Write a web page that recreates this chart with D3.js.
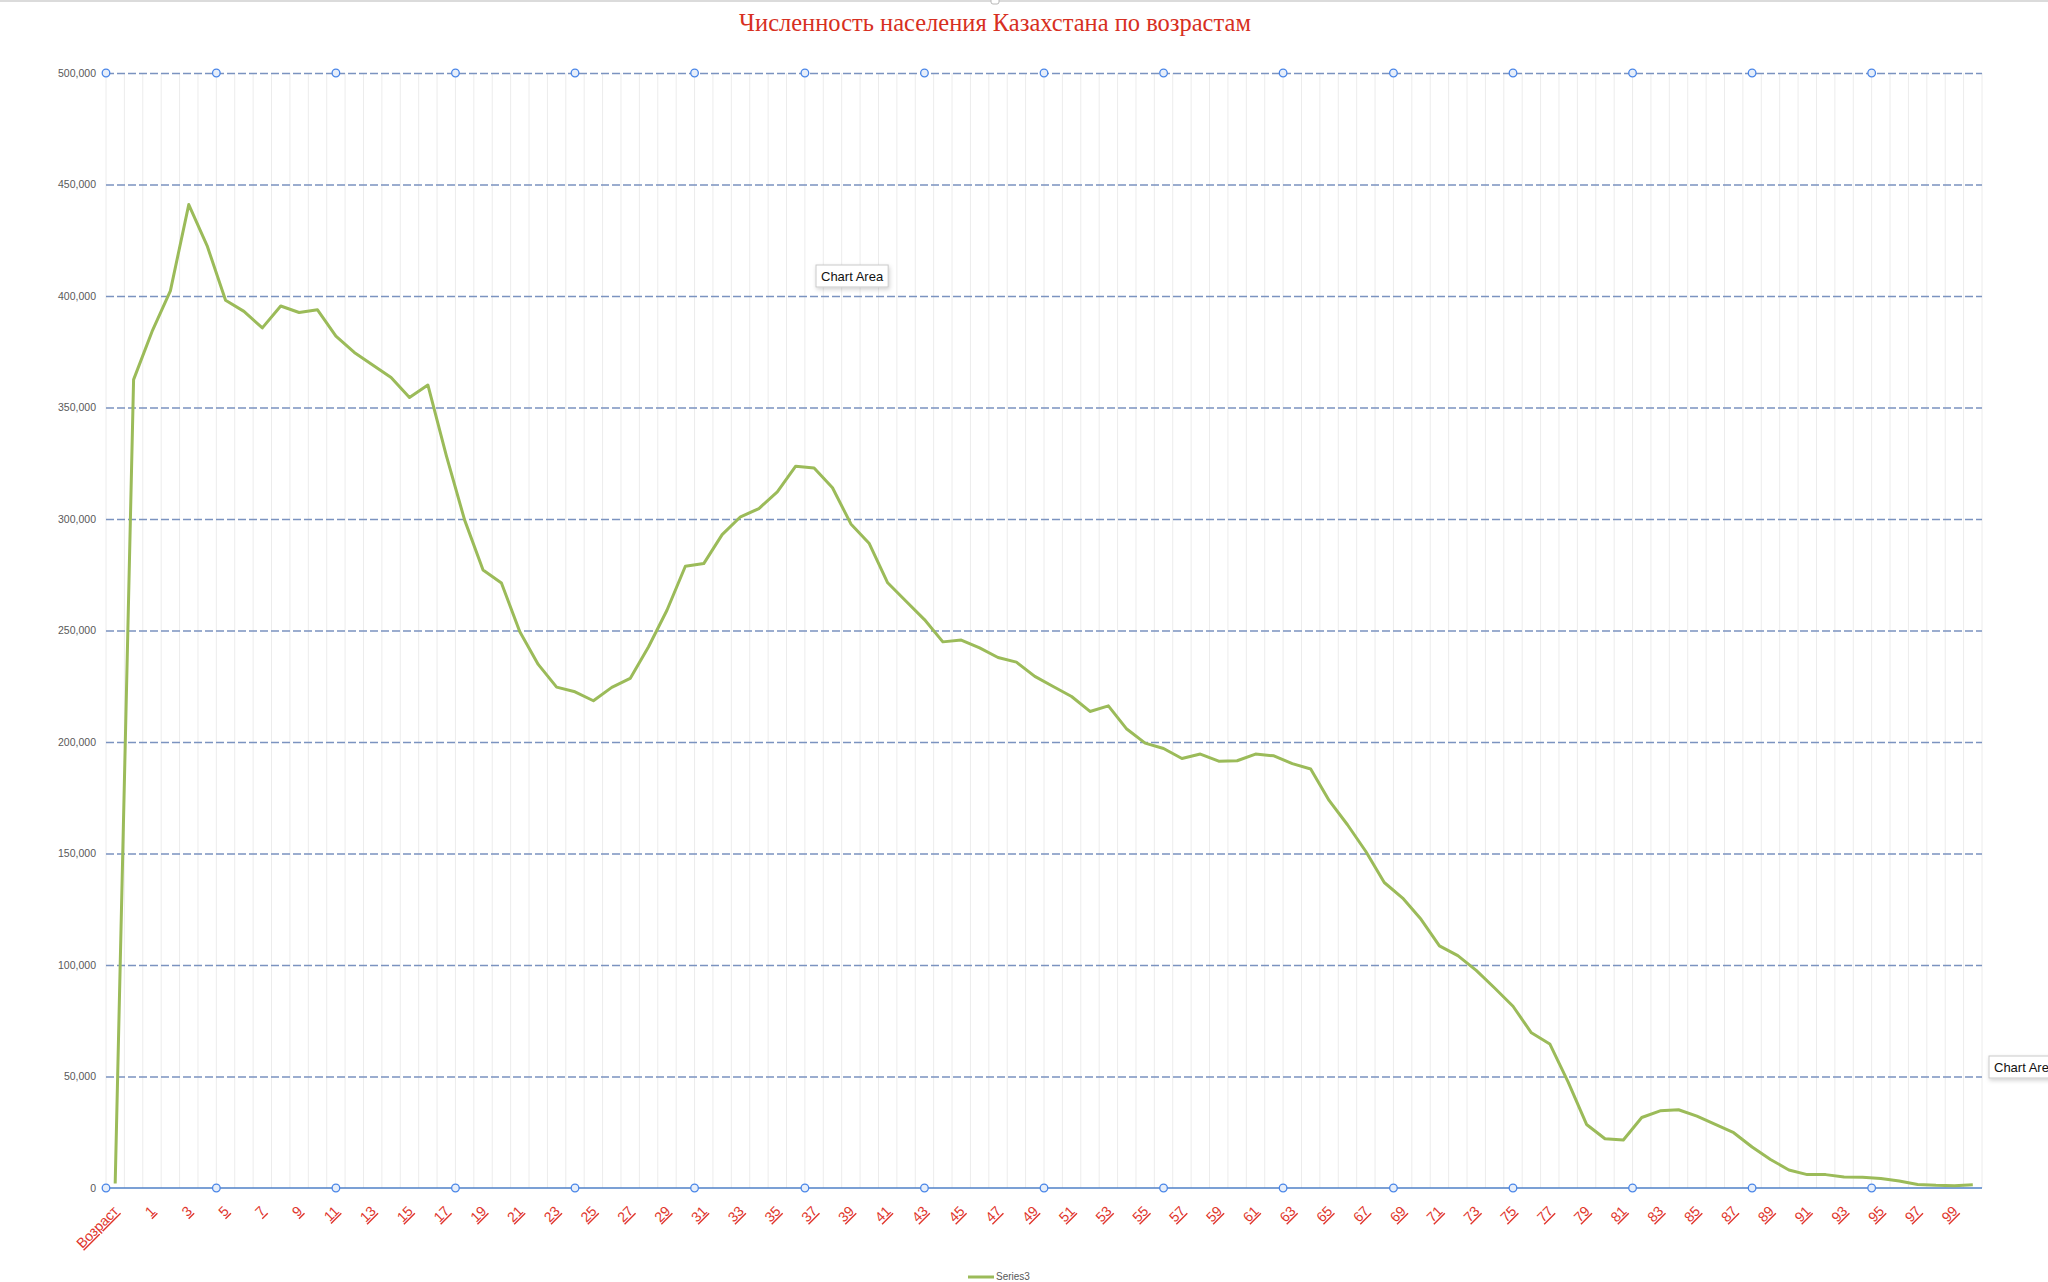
<!DOCTYPE html>
<html>
<head>
<meta charset="utf-8">
<script src="https://cdn.jsdelivr.net/npm/d3@7/dist/d3.min.js"></script>
<style>
  html, body { margin: 0; padding: 0; background: #ffffff; }
  svg { display: block; }
</style>
</head>
<body>
<svg id="chart" width="2048" height="1282"></svg>
<script>
// ---------------- DATA ----------------
const chartTitle = "Численность населения Казахстана по возрастам";
const seriesName = "Series3";
const categories = ["Возраст",
  "0","1","2","3","4","5","6","7","8","9",
  "10","11","12","13","14","15","16","17","18","19",
  "20","21","22","23","24","25","26","27","28","29",
  "30","31","32","33","34","35","36","37","38","39",
  "40","41","42","43","44","45","46","47","48","49",
  "50","51","52","53","54","55","56","57","58","59",
  "60","61","62","63","64","65","66","67","68","69",
  "70","71","72","73","74","75","76","77","78","79",
  "80","81","82","83","84","85","86","87","88","89",
  "90","91","92","93","94","95","96","97","98","99","100"];
const values = [2000,
  362500,384000,402300,441000,422500,398100,393100,385700,395500,392600,
  393800,382000,374700,369100,363500,354500,360100,328500,299500,277100,
  271300,249400,234800,224600,222500,218500,224500,228500,242700,259100,
  278800,280000,293000,301000,304700,312200,323700,322900,314000,297800,
  289000,271400,263100,254900,244900,245700,242200,237900,235800,229400,
  224900,220400,213700,216200,205800,199500,197100,192600,194600,191400,
  191600,194600,193800,190300,187900,173800,162900,150900,137000,130000,
  120500,108600,104200,97600,89700,81500,69600,64600,47500,28500,
  22100,21500,31600,34600,35100,32200,28500,24800,18400,12800,
  8100,6000,6000,4900,4800,4300,3100,1600,1200,1000,1500];
const yTicks = [0,50000,100000,150000,200000,250000,300000,350000,400000,450000,500000];
// selection-handle positions along the category axis (in category units)
const handlePositions = [0,6,12.5,19,25.5,32,38,44.5,51,57.5,64,70,76.5,83,89.5,96];
const tooltipLabels = ["Chart Area","Chart Area"];

// ---------------- LAYOUT ----------------
const W = 2048, H = 1282;
const plot = {left: 106, right: 1982, top: 73, bottom: 1188};

const svg = d3.select("#chart");
svg.append("rect").attr("width", W).attr("height", H).attr("fill", "#ffffff");

const defs = svg.append("defs");
const f = defs.append("filter").attr("id","shadow").attr("x","-20%").attr("y","-30%").attr("width","150%").attr("height","180%");
f.append("feDropShadow").attr("dx",1).attr("dy",2).attr("stdDeviation",2).attr("flood-color","#000").attr("flood-opacity",0.18);

// top border + small handle
svg.append("line").attr("x1",0).attr("x2",W).attr("y1",1).attr("y2",1)
  .attr("stroke","#cfcfcf").attr("stroke-width",1.5);
svg.append("rect").attr("x",991).attr("y",-3).attr("width",8).attr("height",7).attr("rx",2)
  .attr("fill","#fff").attr("stroke","#b8b8b8");

const x = d3.scaleBand().domain(categories).range([plot.left, plot.right]).padding(0);
const y = d3.scaleLinear().domain([0, 500000]).range([plot.bottom, plot.top]);
const bw = x.bandwidth();

// vertical light grid lines (category boundaries)
const boundaries = categories.map(c => x(c)).concat([x(categories[categories.length-1]) + bw]);
svg.append("g").selectAll("line").data(boundaries).join("line")
  .attr("x1", d => d).attr("x2", d => d)
  .attr("y1", y(500000)).attr("y2", y(0))
  .attr("stroke", "#ececec").attr("stroke-width", 1);

// horizontal dashed grid lines
const gridAxis = d3.axisLeft(y).tickValues(yTicks.filter(v => v > 0))
  .tickSize(-(plot.right - plot.left)).tickFormat("");
const gGrid = svg.append("g").attr("transform", `translate(${plot.left},0)`).call(gridAxis);
gGrid.select(".domain").remove();
gGrid.selectAll(".tick line").attr("stroke", "#7b93c0").attr("stroke-width", 1.3)
  .attr("stroke-dasharray", "8,3");

// y labels
const yAxis = d3.axisLeft(y).tickValues(yTicks).tickSize(0).tickPadding(10)
  .tickFormat(d3.format(","));
const gY = svg.append("g").attr("transform", `translate(${plot.left},0)`).call(yAxis);
gY.select(".domain").remove();
gY.selectAll("text").attr("font-family", "Liberation Sans, Arial, sans-serif")
  .attr("font-size", "10.5px").attr("fill", "#595959");

// x axis line
svg.append("line").attr("x1", plot.left).attr("x2", plot.right)
  .attr("y1", y(0)).attr("y2", y(0)).attr("stroke", "#4f81c7").attr("stroke-width", 1.5);

// x labels (every other category)
const labelCats = categories.filter((c, i) => i % 2 === 0);
const xAxis = d3.axisBottom(x).tickValues(labelCats).tickSize(0).tickPadding(0);
const gX = svg.append("g").attr("transform", `translate(0,${plot.bottom})`).call(xAxis);
gX.select(".domain").remove();
gX.selectAll(".tick text")
  .attr("text-anchor", "end")
  .attr("y", 0).attr("dy", 0)
  .attr("transform", `translate(${bw*0.5 - 5},24) rotate(-45)`)
  .attr("font-family", "Liberation Sans, Arial, sans-serif")
  .attr("font-size", "14px")
  .attr("fill", "#e0352b")
  .style("text-decoration", "underline");

// line series
const line = d3.line().x((d, i) => x(categories[i]) + bw / 2).y(d => y(d));
svg.append("path").datum(values).attr("d", line)
  .attr("fill", "none").attr("stroke", "#9bbb59").attr("stroke-width", 3)
  .attr("stroke-linejoin", "round");

// selection handles on top and bottom edges
[500000, 0].forEach(v => {
  svg.append("g").selectAll("circle").data(handlePositions).join("circle")
    .attr("cx", p => plot.left + p * bw).attr("cy", y(v)).attr("r", 3.8)
    .attr("fill", "#e6eefa").attr("stroke", "#4a86e8").attr("stroke-width", 1.3);
});

// title
svg.append("text").attr("x", 995).attr("y", 31).attr("text-anchor", "middle")
  .attr("font-family", "Liberation Serif, 'DejaVu Serif', serif")
  .attr("font-size", "24.5px").attr("fill", "#d72f22").text(chartTitle);

// legend
svg.append("line").attr("x1", 968).attr("x2", 994).attr("y1", 1277).attr("y2", 1277)
  .attr("stroke", "#9bbb59").attr("stroke-width", 3);
svg.append("text").attr("x", 996).attr("y", 1277).attr("dy", "0.33em")
  .attr("font-family", "Liberation Sans, Arial, sans-serif").attr("font-size", "10px")
  .attr("fill", "#595959").text(seriesName);

// tooltips
function tooltip(tx, ty, label) {
  const g = svg.append("g").attr("transform", `translate(${tx},${ty})`);
  const t = g.append("text").attr("x", 5).attr("y", 16)
    .attr("font-family", "Liberation Sans, Arial, sans-serif").attr("font-size", "13px")
    .attr("fill", "#111").text(label);
  const w = t.node().getComputedTextLength() + 10;
  g.insert("rect", "text").attr("width", w).attr("height", 22)
    .attr("fill", "#fff").attr("stroke", "#c9c9c9").attr("stroke-width", 1)
    .attr("filter", "url(#shadow)");
}
tooltip(816, 265, tooltipLabels[0]);
tooltip(1989, 1056, tooltipLabels[1]);
</script>
</body>
</html>
